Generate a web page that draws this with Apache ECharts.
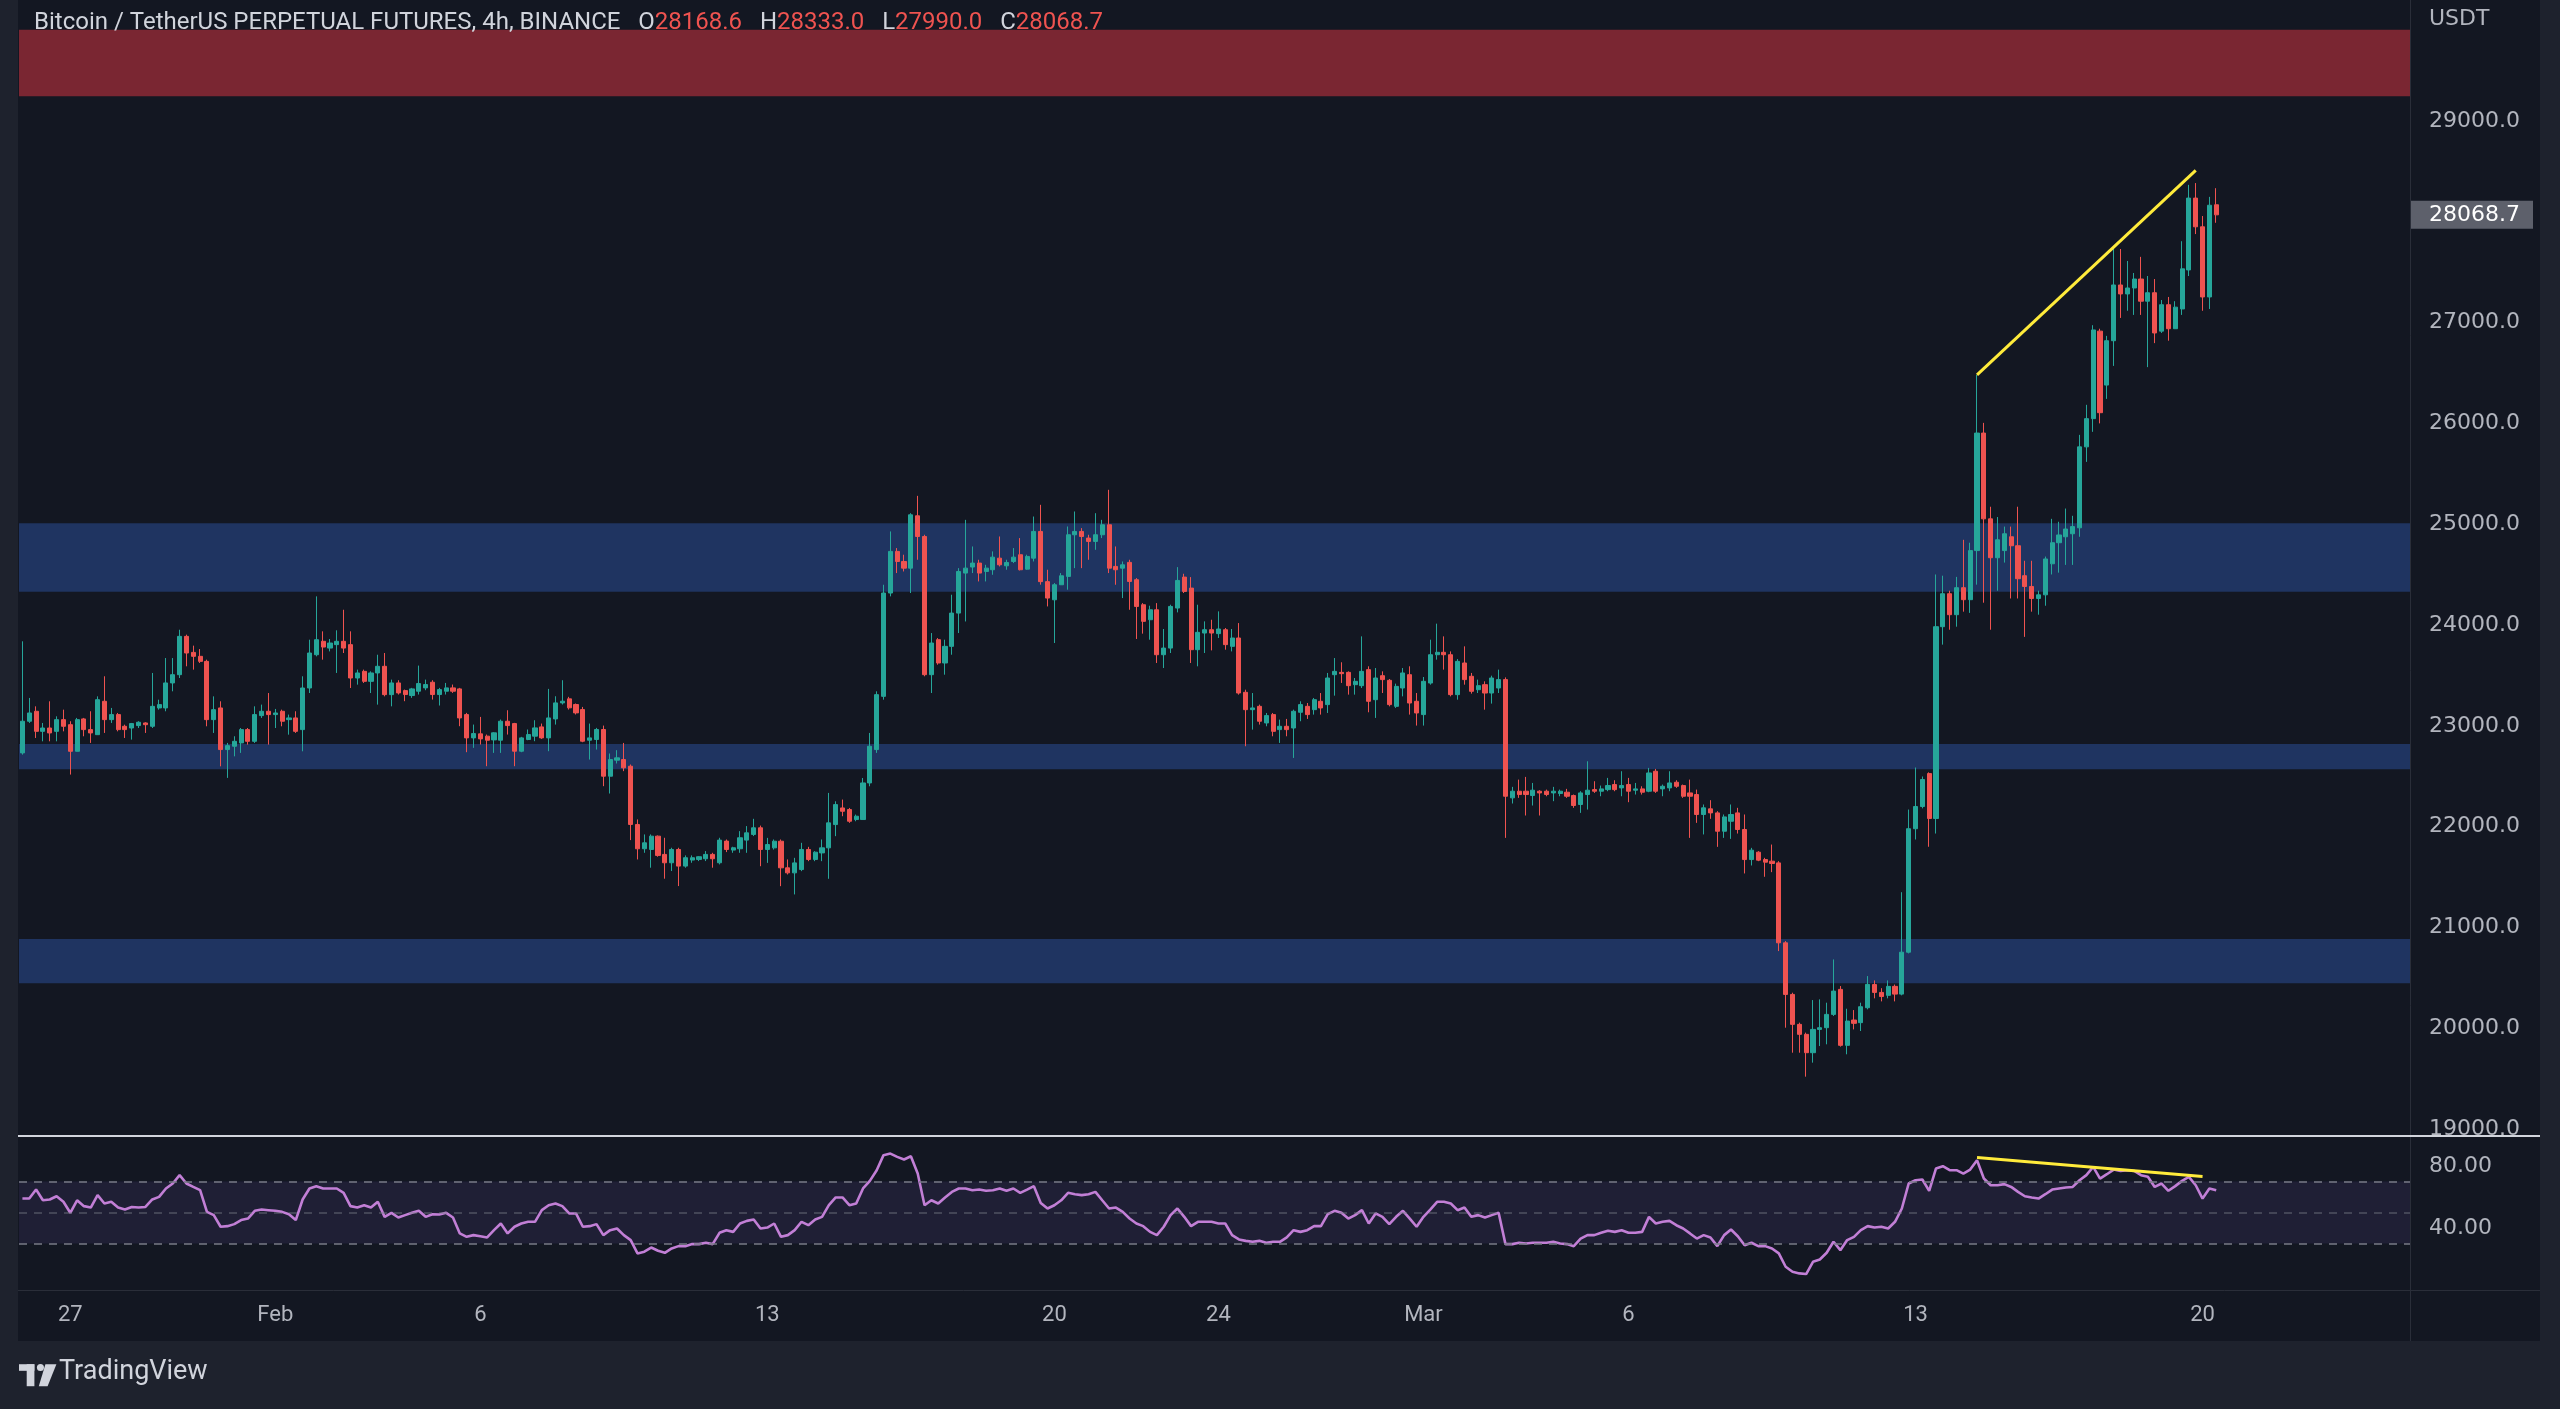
<!DOCTYPE html>
<html><head><meta charset="utf-8">
<script src="https://cdn.jsdelivr.net/npm/echarts@6/dist/echarts.min.js"></script>
<style>html,body{margin:0;padding:0;background:#1e222d;}#c{width:2560px;height:1409px;}</style>
</head><body><div id="c"></div>
<script>
// ---------- DATA ----------
const firstCandleUTC = Date.UTC(2023, 0, 25, 20); // 4h candles
const slotCount = 350;
const tickIndex = [7, 37, 67, 109, 151, 175, 205, 235, 277, 319];
const tickLabels = ['27', 'Feb', '6', '13', '20', '24', 'Mar', '6', '13', '20'];

const open = [
22731,23045,23144,22945,22978,22945,23061,23011,22747,23068,
22962,22912,23243,23061,23111,22995,22978,23002,23028,22995,
23177,23177,23425,23507,23887,23728,23689,23639,23061,23177,
22764,22797,22830,22962,22846,23101,23144,23111,23144,23061,
23078,22962,23375,23705,23838,23771,23805,23838,23805,23474,
23540,23441,23524,23590,23309,23425,23349,23300,23343,23376,
23432,23310,23343,23376,23366,23111,22880,22920,22897,22860,
22857,23045,23022,22748,22864,22897,22989,22880,23068,23227,
23267,23211,23161,22857,22864,22963,22500,22659,22665,22599,
22021,21780,21773,21905,21724,21641,21773,21608,21668,21674,
21681,21724,21641,21856,21767,21780,21866,21922,21988,21773,
21789,21855,21591,21541,21574,21773,21674,21739,21789,22020,
22185,22169,22070,22070,22433,22764,23292,24317,24730,24630,
24564,25083,24878,23507,23854,23623,23788,24118,24515,24575,
24614,24531,24548,24663,24587,24630,24697,24554,24663,24928,
24430,24250,24399,24482,24895,24928,24862,24829,24895,24994,
24581,24564,24621,24449,24201,24052,24151,23705,23771,24168,
24475,24366,23755,23920,23953,23914,23953,23788,23871,23332,
23160,23193,23028,23111,22962,22995,22978,23134,23193,23160,
23243,23210,23507,23530,23530,23408,23398,23557,23259,23497,
23451,23193,23375,23507,23243,23111,23424,23705,23729,23705,
23309,23623,23491,23358,23408,23325,23375,23458,22285,22351,
22351,22308,22351,22351,22334,22328,22341,22308,22219,22318,
22367,22351,22367,22417,22384,22417,22361,22374,22351,22549,
22374,22384,22440,22407,22334,22318,22120,22176,22136,21954,
22053,22136,21971,21673,21746,21673,21657,21640,20847,20335,
20038,19939,19757,19988,20005,20137,20385,19830,20081,20055,
20203,20433,20355,20326,20415,20338,20754,21979,22199,22526,
22080,23983,24310,24102,24370,24251,24738,25904,25053,24667,
24738,24875,24786,24489,24382,24263,24299,24607,24816,24875,
24905,24964,25767,26047,26915,26380,26820,27373,27284,27343,
27432,27212,27296,26915,27177,26939,27135,27522,28235,27950,
27254,28168.6];

const high = [
23838,23276,23193,23028,23243,23094,23160,23045,23078,23078,
23144,23292,23491,23177,23127,23011,23028,23045,23035,23524,
23259,23672,23672,23953,23904,23795,23761,23656,23292,23243,
22830,22896,22978,22978,23193,23210,23325,23167,23160,23111,
23144,23491,23854,24284,23937,23861,23947,24151,23937,23557,
23557,23540,23705,23722,23458,23452,23359,23376,23597,23458,
23452,23376,23425,23409,23376,23128,23012,23088,22913,22936,
23062,23154,23029,22890,22963,23055,23022,23366,23293,23452,
23287,23221,23187,23022,22979,23002,22725,22758,22830,22616,
22071,21922,21922,21912,21889,21790,21790,21714,21714,21707,
21757,21740,21889,21872,21800,21955,22005,22077,22010,21888,
21872,21872,21674,21690,21839,21799,21756,21872,22334,22251,
22268,22185,22119,22482,22929,23342,24399,24928,24763,24697,
25109,25281,24895,23920,23870,23854,24300,24564,25043,24779,
24647,24597,24730,24878,24647,24763,24862,24697,25076,25192,
24548,24416,24515,24977,25126,24961,24895,25109,25043,25341,
24779,24630,24647,24465,24217,24191,24217,23960,24201,24574,
24508,24475,24201,24036,24052,24135,23970,23960,24019,23358,
23325,23210,23127,23127,23061,23068,23160,23243,23226,23276,
23325,23524,23672,23630,23540,23474,23887,23590,23573,23540,
23464,23418,23573,23590,23325,23484,23854,24013,23887,23738,
23662,23788,23524,23458,23441,23497,23557,23480,22394,22466,
22493,22433,22361,22367,22394,22367,22374,22318,22351,22648,
22450,22407,22483,22460,22549,22483,22433,22400,22582,22572,
22417,22549,22460,22417,22466,22367,22219,22262,22153,22120,
22219,22186,22120,21789,21756,21690,21822,21657,20864,20352,
20055,19956,20279,20286,20253,20682,20418,20193,20180,20253,
20517,20474,20397,20474,20433,21349,22169,22586,22497,22538,
24501,24489,24340,24477,24845,24816,26481,26005,25173,25071,
24976,24976,25173,24637,24637,24340,24679,25053,25024,25155,
25083,25886,26184,26974,26939,26868,27760,27730,27611,27492,
27652,27462,27432,27224,27254,27212,27807,28366,28384,28057,
28247,28333.0];

const low = [
22714,23028,22879,22846,22846,22846,22945,22516,22747,22896,
22830,22912,22929,23028,22945,22879,22863,22978,22929,22978,
23160,23144,23342,23474,23590,23557,23623,22995,22929,22598,
22483,22697,22731,22813,22830,23078,22813,22978,22995,22912,
22929,22747,23325,23689,23656,23738,23524,23722,23375,23408,
23425,23325,23210,23292,23193,23310,23244,23277,23310,23353,
23260,23201,23310,23326,22996,22738,22781,22814,22599,22731,
22731,22913,22599,22738,22857,22847,22870,22748,23012,23211,
23161,23112,22837,22665,22764,22401,22328,22626,22550,21866,
21674,21740,21592,21701,21483,21559,21410,21592,21641,21658,
21658,21592,21625,21747,21740,21740,21740,21906,21607,21640,
21772,21409,21525,21327,21558,21657,21657,21657,21482,21905,
22103,22037,22053,22070,22400,22731,23259,24284,24515,24531,
24317,24647,23491,23325,23606,23507,23705,23920,24035,24515,
24432,24432,24498,24581,24548,24614,24541,24548,24630,24400,
24184,23821,24399,24350,24564,24564,24647,24746,24862,24515,
24399,24267,24151,23861,23914,23854,23623,23573,23722,24125,
24317,23623,23590,23722,23748,23871,23755,23738,23309,22797,
22962,23012,22995,22896,22830,22896,22681,23045,23068,23111,
23111,23127,23299,23425,23309,23309,23375,23134,23078,23325,
23193,23177,23292,23111,23002,23002,23408,23656,23557,23292,
23259,23408,23319,23325,23160,23220,23325,21888,22229,22285,
22110,22209,22110,22301,22252,22301,22285,22186,22136,22169,
22334,22301,22351,22351,22301,22242,22318,22318,22341,22334,
22301,22351,22384,22285,21888,22037,21922,22077,21799,21888,
21878,21931,21535,21614,21657,21502,21548,20765,20005,19757,
19757,19519,19658,19823,19840,20121,19817,19741,19988,19972,
20187,20296,20266,20296,20266,20326,20742,21872,22181,21800,
21931,23805,23953,23983,24132,24120,24400,24221,23953,24340,
24619,24263,24263,23882,24132,24102,24191,24501,24519,24596,
24596,24875,25618,25916,26000,26243,26570,27046,27117,27076,
27076,26558,26796,26897,26820,26939,27076,27462,27878,27117,
27135,27990.0];

const close = [
23045,23127,22945,22978,22929,23061,22995,22747,23061,22962,
22929,23259,23061,23111,22962,22962,23022,23035,23011,23193,
23210,23425,23507,23887,23722,23689,23639,23061,23160,22764,
22803,22846,22962,22846,23111,23144,23111,23127,23045,23078,
22945,23375,23722,23854,23781,23821,23838,23771,23474,23524,
23441,23524,23590,23309,23425,23326,23310,23366,23419,23409,
23310,23359,23376,23343,23078,22880,22923,22870,22857,22930,
23045,23002,22748,22880,22913,22979,22880,23078,23227,23244,
23178,23128,22847,22880,22963,22500,22665,22682,22583,22021,
21780,21839,21905,21714,21641,21773,21608,21691,21691,21701,
21724,21681,21866,21773,21790,21889,21938,21988,21773,21822,
21855,21591,21541,21640,21773,21674,21746,21789,22037,22218,
22152,22053,22103,22433,22797,23309,24317,24730,24630,24564,
25093,24878,23507,23821,23623,23788,24118,24531,24564,24614,
24515,24564,24673,24597,24620,24673,24548,24680,24928,24430,
24267,24399,24488,24895,24928,24878,24829,24895,24994,24564,
24548,24597,24432,24184,24036,24151,23705,23771,24184,24442,
24333,23755,23927,23953,23920,23960,23805,23871,23325,23160,
23177,23045,23101,22945,22995,22962,23144,23210,23111,23259,
23177,23474,23540,23517,23398,23441,23540,23243,23474,23458,
23210,23391,23524,23226,23127,23441,23705,23729,23705,23309,
23639,23458,23342,23398,23325,23474,23458,22301,22351,22318,
22318,22361,22334,22318,22351,22351,22301,22209,22334,22361,
22351,22374,22407,22367,22407,22351,22374,22341,22532,22351,
22400,22433,22400,22301,22301,22120,22186,22136,21954,22096,
22120,21971,21673,21766,21667,21647,21634,20847,20335,20038,
19939,19757,19988,20005,20137,20368,19830,20071,20048,20213,
20435,20355,20314,20415,20338,20754,21979,22199,22467,22080,
23983,24310,24102,24370,24251,24738,25904,25053,24667,24845,
24905,24786,24459,24382,24263,24299,24655,24816,24893,24952,
24976,25767,26047,26927,26106,26820,27373,27284,27343,27432,
27212,27296,26897,27177,26939,27153,27533,28235,27950,27254,
28164,28068.7];

const rsi = [
59.0,59.0,64.8,57.9,58.4,60.5,56.9,49.8,57.9,54.1,53.2,
61.2,55.8,56.9,53.2,51.9,53.6,53.2,53.6,58.4,60.1,
65.5,68.7,74.1,68.7,66.5,64.4,50.4,48.3,40.8,41.2,
42.5,45.1,46.1,51.1,51.9,51.5,51.1,50.4,48.9,45.1,
58.4,65.5,67.0,65.5,65.5,65.5,62.7,54.1,53.2,54.7,
53.2,56.9,47.2,49.8,46.8,48.3,49.8,51.1,47.2,48.9,
48.7,49.8,46.8,36.5,34.3,35.4,34.7,33.9,38.6,42.9,
36.5,40.8,42.9,44.0,44.0,51.5,54.7,55.8,54.1,49.4,49.4,
40.8,41.2,42.5,35.4,38.6,39.7,35.4,32.2,23.6,24.7,
27.4,25.3,24.0,26.8,28.3,28.3,29.6,29.6,30.5,29.6,
36.9,38.6,37.5,42.9,44.6,45.5,39.7,40.3,42.9,34.3,
35.4,38.6,44.0,41.8,45.5,47.2,54.7,59.7,59.7,54.7,
55.8,65.5,70.4,77.3,87.0,88.0,85.9,84.2,86.3,75.1,
54.7,57.9,55.8,59.7,63.3,65.5,65.5,64.4,64.8,64.0,
64.4,65.5,64.0,65.5,62.7,64.8,67.0,56.2,52.6,54.7,
57.9,62.7,61.8,61.2,61.8,63.3,57.9,52.6,53.2,50.4,
46.1,42.9,41.2,37.5,35.4,40.8,48.3,52.6,47.2,41.2,
44.0,44.0,44.0,42.9,42.9,35.4,32.6,31.7,31.1,31.7,
30.5,31.1,31.1,33.9,38.6,
37.5,38.6,41.2,41.2,48.9,51.1,49.8,46.1,48.3,51.5,
42.9,49.4,47.2,42.5,47.2,51.1,46.1,40.8,47.2,51.9,
56.9,56.9,55.8,51.5,53.2,
47.2,48.3,46.8,48.3,49.8,29.6,29.6,30.5,30.0,30.5,
30.5,30.5,31.1,30.0,29.6,28.3,33.2,35.4,35.4,36.9,
38.2,37.5,38.6,36.9,36.9,37.5,47.2,42.9,44.0,44.6,
41.8,39.7,36.5,33.2,35.4,33.9,28.3,35.4,39.0,34.7,
28.9,30.5,28.3,28.3,26.8,23.6,15.0,11.8,10.7,
10.3,18.2,19.7,24.0,31.1,25.7,32.2,34.3,38.6,41.2,
40.3,40.8,39.7,44.0,52.6,68.7,70.8,71.3,64.0,78.4,
79.9,77.3,77.3,75.1,77.7,83.7,71.9,67.6,67.6,68.3,
66.5,63.3,60.5,59.7,59.0,61.8,64.8,65.5,66.1,66.5,
70.8,74.1,79.4,71.9,74.7,77.7,76.8,77.3,76.8,
74.1,73.0,66.5,68.7,64.0,67.0,70.4,73.0,67.6,59.0,65.5,64.4];

// zones (price ranges)
const resistanceZone = [29245, 29905];
const supportZones = [[24330, 25010], [22570, 22820], [20445, 20885]];
// trend lines: [candle index, value]
const priceTrend = [[286, 26481], [318, 28510]];
const rsiTrend = [[286, 85.5], [319, 73.2]];
const rsiLevels = [70, 50, 30];
const rsiBand = [30, 70];

// ---------- BUILD ----------
const cats = [];
for (let k = 0; k < slotCount; k++) {
  const d = new Date(firstCandleUTC + k * 4 * 3600 * 1000);
  cats.push(d.toISOString().slice(0, 16));
}
const candleData = open.map((o, i) => [o, close[i], low[i], high[i]]);
const last = open.length - 1;
const FONT = 'Roboto, "Liberation Sans", sans-serif';
const AXFONT = '"DejaVu Sans", Verdana, sans-serif';
const red = '#ef5350', green = '#26a69a';

const zoneAreas = [
  [{ yAxis: resistanceZone[0], itemStyle: { color: '#7a2632' } }, { yAxis: resistanceZone[1] }]
].concat(supportZones.map(z => [{ yAxis: z[0], itemStyle: { color: '#1f3461' } }, { yAxis: z[1] }]));

const chart = echarts.init(document.getElementById('c'), null, { renderer: 'canvas', width: 2560, height: 1409 });
const SP = '   ';
const option = {
  backgroundColor: '#1e222d',
  animation: false,
  textStyle: { fontFamily: FONT },
  grid: [
    { left: 19, top: 0, width: 2392, height: 1129 },
    { left: 19, top: 1135, width: 2392, height: 155 }
  ],
  xAxis: [
    { type: 'category', gridIndex: 0, data: cats, boundaryGap: true,
      axisLine: { show: false }, axisTick: { show: false }, axisLabel: { show: false }, splitLine: { show: false } },
    { type: 'category', gridIndex: 1, data: cats, boundaryGap: true,
      axisLine: { show: false }, axisTick: { show: false }, splitLine: { show: false },
      axisLabel: {
        interval: (i) => tickIndex.indexOf(i) >= 0,
        formatter: (v, i) => { const k = tickIndex.indexOf(i); return k >= 0 ? tickLabels[k] : ''; },
        color: '#b2b5be', fontSize: 22, margin: 14, fontFamily: FONT
      } }
  ],
  yAxis: [
    { type: 'value', gridIndex: 0, position: 'right', min: 19000, max: 30200, interval: 1000,
      axisLine: { show: false }, axisTick: { show: false }, splitLine: { show: false },
      axisLabel: { color: '#b2b5be', fontSize: 22, margin: 18, fontFamily: AXFONT,
        formatter: v => (v % 1000 === 0 && v <= 29000) ? v.toFixed(1) : '' } },
    { type: 'value', gridIndex: 1, position: 'right', min: 0, max: 100, interval: 40,
      axisLine: { show: false }, axisTick: { show: false }, splitLine: { show: false },
      axisLabel: { color: '#b2b5be', fontSize: 22, margin: 18, fontFamily: AXFONT,
        formatter: v => (v === 40 || v === 80) ? v.toFixed(2) : '' } }
  ],
  graphic: [
    { type: 'rect', z: -10, silent: true, shape: { x: 18, y: 0, width: 2522, height: 1341 }, style: { fill: '#131722' } },
    { type: 'line', z: 50, silent: true, shape: { x1: 2410.5, y1: 0, x2: 2410.5, y2: 1341 }, style: { stroke: '#2a2e39', lineWidth: 1 } },
    { type: 'line', z: 50, silent: true, shape: { x1: 18, y1: 1290.5, x2: 2540, y2: 1290.5 }, style: { stroke: '#2a2e39', lineWidth: 1 } },
    { type: 'line', z: 50, silent: true, shape: { x1: 18, y1: 1136, x2: 2540, y2: 1136 }, style: { stroke: '#d1d4dc', lineWidth: 2 } },
    { type: 'text', z: 60, silent: true, left: 34, top: 11,
      style: {
        text: '{t|Bitcoin / TetherUS PERPETUAL FUTURES, 4h, BINANCE}' + SP + '{l|O}{v|' + open[last].toFixed(1) + '}' + SP + '{l|H}{v|' + high[last].toFixed(1) +
              '}' + SP + '{l|L}{v|' + low[last].toFixed(1) + '}' + SP + '{l|C}{v|' + close[last].toFixed(1) + '}',
        font: '24px ' + FONT,
        rich: {
          t: { fill: '#d1d4dc', fontSize: 24, fontFamily: FONT },
          l: { fill: '#d1d4dc', fontSize: 24, fontFamily: FONT },
          v: { fill: red, fontSize: 24, fontFamily: FONT }
        }
      } },
    { type: 'text', z: 60, silent: true, left: 2429, top: 8,
      style: { text: 'USDT', fill: '#b2b5be', fontSize: 22, fontFamily: AXFONT } },
    { type: 'group', silent: true, left: 19, top: 1364, scaleX: 1.1, scaleY: 1.1, children: [
      { type: 'rect', shape: { x: 0, y: 1, width: 14, height: 6 }, style: { fill: '#d1d4dc' } },
      { type: 'rect', shape: { x: 7, y: 1, width: 7, height: 20 }, style: { fill: '#d1d4dc' } },
      { type: 'circle', shape: { cx: 19.5, cy: 4, r: 3.2 }, style: { fill: '#d1d4dc' } },
      { type: 'polygon', shape: { points: [[24, 1], [34, 1], [26, 21], [18, 21]] }, style: { fill: '#d1d4dc' } }
    ] },
    { type: 'text', silent: true, left: 59, top: 1359,
      style: { text: 'TradingView', fill: '#d1d4dc', fontSize: 27, fontFamily: FONT } }
  ],
  series: [
    { type: 'line', name: 'zones', xAxisIndex: 0, yAxisIndex: 0, data: [], z: 1, silent: true,
      markArea: { silent: true, data: zoneAreas } },
    { type: 'candlestick', name: 'BTCUSDT', xAxisIndex: 0, yAxisIndex: 0, z: 3, data: candleData,
      barWidth: 4.6,
      itemStyle: { color: green, color0: red, borderColor: green, borderColor0: red, borderWidth: 1 } },
    { type: 'line', name: 'trend', xAxisIndex: 0, yAxisIndex: 0, data: priceTrend, z: 5, symbol: 'none',
      lineStyle: { color: '#ffeb3b', width: 3 } },
    { type: 'line', name: 'RSI', xAxisIndex: 1, yAxisIndex: 1, data: rsi, z: 3, symbol: 'none',
      lineStyle: { color: '#c27fd6', width: 2.6 },
      markArea: { silent: true, data: [[{ yAxis: rsiBand[0], itemStyle: { color: 'rgba(126,87,194,0.12)' } }, { yAxis: rsiBand[1] }]] },
      markLine: { silent: true, symbol: 'none', label: { show: false },
        data: rsiLevels.map(v => ({ yAxis: v, lineStyle: { color: v === 50 ? 'rgba(120,123,134,0.55)' : '#787b86', type: [8, 7], width: 1.5 } })) } },
    { type: 'line', name: 'rsiTrend', xAxisIndex: 1, yAxisIndex: 1, data: rsiTrend, z: 5, symbol: 'none',
      lineStyle: { color: '#ffeb3b', width: 3 } }
  ]
};
chart.setOption(option);

// last-price tag on the price axis, positioned through the axis scale
const tagY = chart.convertToPixel({ yAxisIndex: 0 }, close[last]);
const gridRight = chart.convertToPixel({ xAxisIndex: 0 }, cats[slotCount - 1]) + 2392 / slotCount / 2;
chart.setOption({
  graphic: option.graphic.concat([
    { type: 'rect', z: 70, silent: true, shape: { x: gridRight, y: tagY - 14, width: 122, height: 28 }, style: { fill: '#5d606b' } },
    { type: 'text', z: 71, silent: true, x: gridRight + 18, y: tagY,
      style: { text: close[last].toFixed(1), fill: '#ffffff', fontSize: 22, fontFamily: AXFONT, verticalAlign: 'middle' } }
  ])
});
</script>
</body></html>
